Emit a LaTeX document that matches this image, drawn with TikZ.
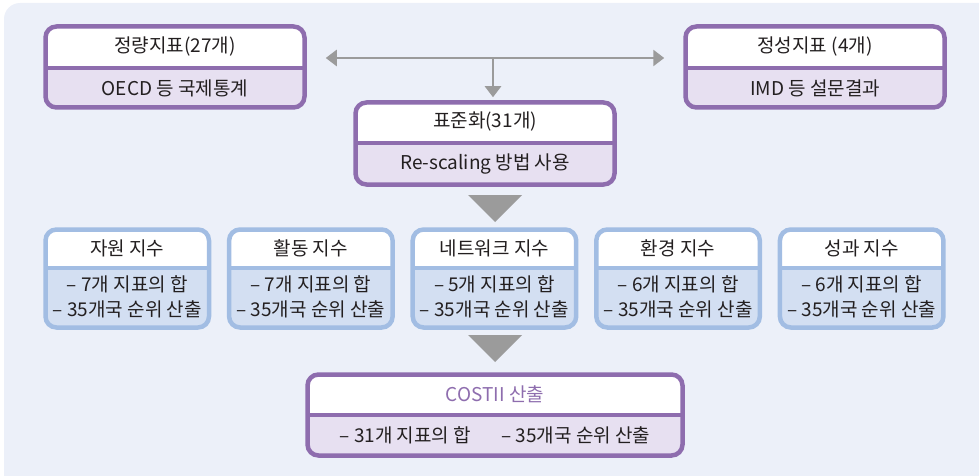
\documentclass[tikz,border=0pt]{standalone}
\usepackage{fontspec}
\setmainfont{Noto Sans CJK KR}
\usetikzlibrary{arrows.meta}
\definecolor{bgc}{HTML}{ECF0F9}
\definecolor{purp}{HTML}{8E6DAE}
\definecolor{lav}{HTML}{E7E0F1}
\definecolor{blu}{HTML}{A2BDE3}
\definecolor{blufill}{HTML}{D3DFF2}
\definecolor{arr}{HTML}{9B9B9B}
\definecolor{txt}{HTML}{231F20}
\tikzset{
  lbl/.style={inner sep=0pt, text=txt, font=\fontsize{19}{22}\selectfont, align=center},
  lbltwo/.style={lbl, font=\fontsize{19}{24.5}\selectfont},
  tri/.style={fill=arr},
  conn/.style={draw=arr, line width=2.6pt, -{Triangle[length=11pt,width=16pt]}},
}
% #1 name, #2 x1, #3 y1, #4 x2, #5 y2, #6 ydiv, #7 border colour, #8 lower fill
\newcommand\twobox[8]{%
  \fill[white,rounded corners=11pt] (#2,#3) rectangle (#4,#5);
  \begin{scope}
    \clip[rounded corners=11pt] (#2,#3) rectangle (#4,#5);
    \fill[#8] (#2,#6) rectangle (#4,#5);
  \end{scope}
  \draw[#7,line width=4.5pt] (#2,#6) -- (#4,#6);
  \pgfmathsetmacro\bcx{(#2+#4)/2}\pgfmathsetmacro\bcy{(#3+#5)/2}%
  \pgfmathsetmacro\bww{#4-#2}\pgfmathsetmacro\bhh{#5-#3}%
  \node[draw=#7,line width=4.5pt,rounded corners=11pt,inner sep=0pt,
        minimum width=\bww pt,minimum height=\bhh pt] (#1) at (\bcx,\bcy) {};
}
\begin{document}
\begin{tikzpicture}[x=1pt,y=-1pt]
\useasboundingbox (0,0) rectangle (979,476);
\fill[bgc,rounded corners=16pt] (4,3) rectangle (1000,500);

% top boxes
\twobox{qn}{45.5}{26.5}{304.5}{107.5}{68}{purp}{lav}
\node[lbl] (qnh) at (175,47) {정량지표(27개)};
\node[lbl] (qnb) at (175,88) {OECD 등 국제통계};

\twobox{ql}{685.5}{26.5}{944.5}{107.5}{68}{purp}{lav}
\node[lbl] (qlh) at (815,47) {정성지표 (4개)};
\node[lbl] (qlb) at (815,88) {IMD 등 설문결과};

\twobox{st}{355.5}{102.5}{614.5}{184.5}{143}{purp}{lav}
\node[lbl] (sth) at (485,122) {표준화(31개)};
\node[lbl] (stb) at (485,164) {Re-scaling 방법 사용};

% connectors
\coordinate (hub) at (493,58);
\draw[conn,shorten >=19pt] (hub) -- (qn.east |- hub);
\draw[conn,shorten >=19pt] (hub) -- (ql.west |- hub);
\draw[conn,shorten >=3pt] (hub) -- (st.north -| hub);

% big triangle 1
\fill[tri] (468,195) -- (522,195) -- (495,222) -- cycle;

% index boxes
\twobox{ja}{45.5}{229.5}{209}{327.5}{268}{blu}{blufill}
\node[lbl] (jah) at (127.25,248) {자원 지수};
\node[lbltwo] (jab) at (127.25,297) {– 7개 지표의 합\\– 35개국 순위 산출};

\twobox{hw}{229.1}{229.5}{392.6}{327.5}{268}{blu}{blufill}
\node[lbl] (hwh) at (310.85,248) {활동 지수};
\node[lbltwo] (hwb) at (310.85,297) {– 7개 지표의 합\\– 35개국 순위 산출};

\twobox{ne}{412.7}{229.5}{576.2}{327.5}{268}{blu}{blufill}
\node[lbl] (neh) at (494.45,248) {네트워크 지수};
\node[lbltwo] (neb) at (494.45,297) {– 5개 지표의 합\\– 35개국 순위 산출};

\twobox{hk}{596.3}{229.5}{759.8}{327.5}{268}{blu}{blufill}
\node[lbl] (hkh) at (678.05,248) {환경 지수};
\node[lbltwo] (hkb) at (678.05,297) {– 6개 지표의 합\\– 35개국 순위 산출};

\twobox{sg}{779.9}{229.5}{943.4}{327.5}{268}{blu}{blufill}
\node[lbl] (sgh) at (861.65,248) {성과 지수};
\node[lbltwo] (sgb) at (861.65,297) {– 6개 지표의 합\\– 35개국 순위 산출};

% big triangle 2
\fill[tri] (468,335) -- (522,335) -- (495,362) -- cycle;

% bottom box
\twobox{co}{307.5}{374.5}{682.5}{455.5}{415}{purp}{lav}
\node[lbl,text=purp] (coh) at (495,394) {COSTII 산출};
\node[lbl] (cob) at (495,435) {– 31개 지표의 합\hspace{1.6em}– 35개국 순위 산출};
\end{tikzpicture}
\end{document}
